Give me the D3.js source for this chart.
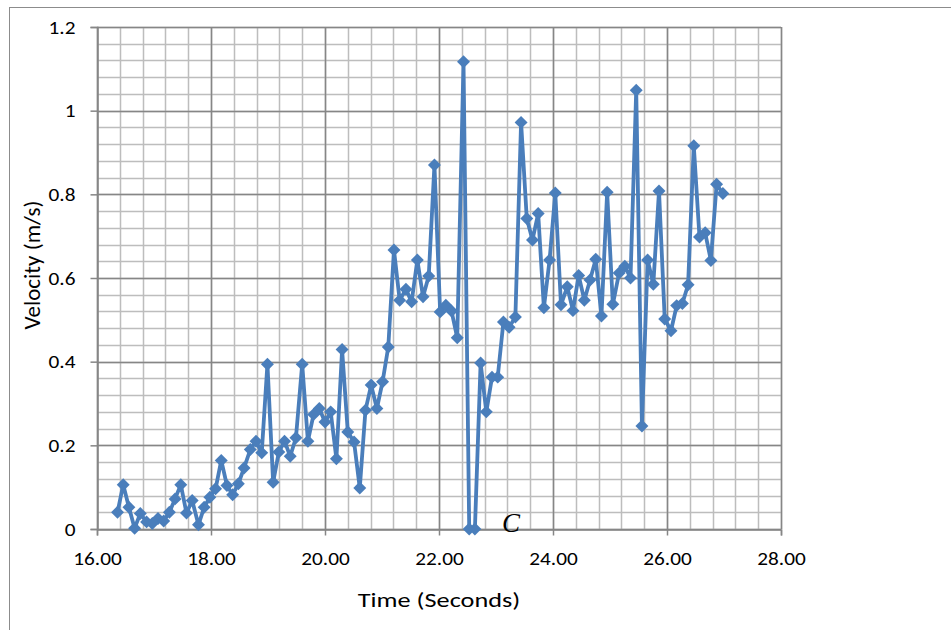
<!DOCTYPE html>
<html>
<head>
<meta charset="utf-8">
<script src="https://cdn.jsdelivr.net/npm/d3@7"></script>
<style>
  body { margin: 0; background: #fff; }
</style>
</head>
<body>
<svg id="chart"></svg>
<script>
// time in seconds, one reading every ~0.1 s
const times = [
  16.36, 16.46, 16.56, 16.66, 16.76, 16.87, 16.97, 17.07, 17.17, 17.27,
  17.37, 17.47, 17.57, 17.67, 17.78, 17.88, 17.98, 18.08, 18.18, 18.28,
  18.38, 18.48, 18.58, 18.69, 18.79, 18.89, 18.99, 19.09, 19.19, 19.29,
  19.39, 19.49, 19.60, 19.70, 19.80, 19.90, 20.00, 20.10, 20.20, 20.30,
  20.40, 20.51, 20.61, 20.71, 20.81, 20.91, 21.01, 21.11, 21.21, 21.31,
  21.42, 21.52, 21.62, 21.72, 21.82, 21.92, 22.02, 22.12, 22.22, 22.32,
  22.43, 22.53, 22.63, 22.73, 22.83, 22.93, 23.03, 23.13, 23.23, 23.34,
  23.44, 23.54, 23.64, 23.74, 23.84, 23.94, 24.04, 24.14, 24.25, 24.35,
  24.45, 24.55, 24.65, 24.75, 24.85, 24.95, 25.05, 25.16, 25.26, 25.36,
  25.46, 25.56, 25.66, 25.76, 25.86, 25.96, 26.07, 26.17, 26.27, 26.37,
  26.47, 26.57, 26.67, 26.77, 26.87, 26.98
];

// velocity in m/s
const velocity = [
  0.040, 0.106, 0.052, 0.002, 0.037, 0.017, 0.013, 0.025, 0.019, 0.040,
  0.072, 0.106, 0.038, 0.068, 0.010, 0.052, 0.076, 0.096, 0.164, 0.104,
  0.082, 0.108, 0.146, 0.190, 0.210, 0.182, 0.394, 0.112, 0.184, 0.210,
  0.174, 0.218, 0.394, 0.210, 0.274, 0.288, 0.256, 0.280, 0.168, 0.429,
  0.232, 0.208, 0.098, 0.284, 0.344, 0.288, 0.352, 0.435, 0.667, 0.547,
  0.573, 0.543, 0.643, 0.555, 0.605, 0.870, 0.519, 0.535, 0.521, 0.457,
  1.117, 0.000, 0.000, 0.397, 0.280, 0.363, 0.363, 0.495, 0.482, 0.507,
  0.972, 0.742, 0.691, 0.754, 0.529, 0.643, 0.803, 0.536, 0.579, 0.522,
  0.606, 0.547, 0.595, 0.645, 0.509, 0.805, 0.537, 0.612, 0.628, 0.600,
  1.049, 0.246, 0.643, 0.585, 0.808, 0.502, 0.474, 0.534, 0.539, 0.584,
  0.916, 0.698, 0.708, 0.642, 0.824, 0.802
];

const xTicks = [16, 18, 20, 22, 24, 26, 28];
const yTicks = [0, 0.2, 0.4, 0.6, 0.8, 1, 1.2];

const width = 951, height = 630;
const margin = {left: 97, right: 170, top: 27, bottom: 101};
const font = "Carlito, Lato, sans-serif";

const svg = d3.select("#chart")
    .attr("width", width)
    .attr("height", height)
    .attr("font-family", font);

// widen text a little, the original labels are drawn horizontally stretched
function stretch(sel, k) {
  sel.each(function() {
    const w = this.getComputedTextLength();
    d3.select(this).attr("textLength", w * k).attr("lengthAdjust", "spacingAndGlyphs");
  });
}

// chart area frame (only top and left edges are in view)
svg.append("rect")
    .attr("x", 9.5).attr("y", 7.5)
    .attr("width", 960).attr("height", 660)
    .attr("fill", "none")
    .attr("stroke", "#8c8c8c");

const x = d3.scaleLinear().domain([16, 28]).range([margin.left, width - margin.right]);
const y = d3.scaleLinear().domain([0, 1.2]).range([height - margin.bottom, margin.top]);

const grid = svg.append("g");

// minor gridlines every 0.4 s and 0.04 m/s
grid.selectAll(".vminor").data(d3.range(16, 28.001, 0.4))
  .join("line")
    .attr("x1", d => Math.round(x(d)) + 0.5).attr("x2", d => Math.round(x(d)) + 0.5)
    .attr("y1", y(0)).attr("y2", y(1.2))
    .attr("stroke", "#bdbdbd").attr("stroke-width", 1.5);

grid.selectAll(".hminor").data(d3.range(0, 1.2001, 0.04))
  .join("line")
    .attr("y1", d => Math.round(y(d)) + 0.5).attr("y2", d => Math.round(y(d)) + 0.5)
    .attr("x1", x(16)).attr("x2", x(28))
    .attr("stroke", "#bdbdbd").attr("stroke-width", 1.5);

// major gridlines
grid.selectAll(".vmajor").data(xTicks)
  .join("line")
    .attr("x1", d => Math.round(x(d)) + 0.5).attr("x2", d => Math.round(x(d)) + 0.5)
    .attr("y1", y(0)).attr("y2", y(1.2))
    .attr("stroke", "#868686").attr("stroke-width", 1.5);

grid.selectAll(".hmajor").data(yTicks)
  .join("line")
    .attr("y1", d => Math.round(y(d)) + 0.5).attr("y2", d => Math.round(y(d)) + 0.5)
    .attr("x1", x(16)).attr("x2", x(28))
    .attr("stroke", "#868686").attr("stroke-width", 1.5);

// axes
const xAxis = d3.axisBottom(x).tickValues(xTicks).tickFormat(d3.format(".2f")).tickSize(6).tickPadding(16);
const yAxis = d3.axisLeft(y).tickValues(yTicks).tickFormat(d => d3.format("")(d)).tickSize(7).tickPadding(15);

const gx = svg.append("g")
    .attr("transform", `translate(0,${Math.round(y(0)) + 0.5})`)
    .call(xAxis);
const gy = svg.append("g")
    .attr("transform", `translate(${Math.round(x(16)) + 0.5},0)`)
    .call(yAxis);

[gx, gy].forEach(g => {
  g.attr("font-family", font).attr("font-size", 19);
  g.select(".domain").attr("stroke", "#868686").attr("stroke-width", 1.5);
  g.selectAll(".tick line").attr("stroke", "#868686").attr("stroke-width", 1.5);
  g.selectAll("text").attr("fill", "#000");
});
stretch(gx.selectAll(".tick text"), 1.12);
stretch(gy.selectAll(".tick text"), 1.12);

// series
const pts = times.map((t, i) => ({t: t, v: velocity[i]}));

svg.append("path")
    .datum(pts)
    .attr("fill", "none")
    .attr("stroke", "#4a7ebb")
    .attr("stroke-width", 3.8)
    .attr("stroke-linejoin", "round")
    .attr("d", d3.line().x(d => x(d.t)).y(d => y(d.v)));

const diamond = d3.symbol().type(d3.symbolSquare).size(84);
svg.append("g").selectAll("path")
  .data(pts)
  .join("path")
    .attr("d", diamond)
    .attr("transform", d => `translate(${x(d.t)},${y(d.v)}) rotate(45)`)
    .attr("fill", "#4a7ebb");

// annotation
svg.append("text")
    .attr("x", 502).attr("y", 532)
    .style("font-family", "'Liberation Serif', 'DejaVu Serif', serif")
    .style("font-style", "italic")
    .attr("font-size", 27)
    .attr("fill", "#000")
    .text("C");

// axis titles
svg.append("text")
    .attr("x", (x(16) + x(28)) / 2).attr("y", 607)
    .attr("text-anchor", "middle")
    .attr("font-size", 21)
    .attr("fill", "#000")
    .text("Time (Seconds)")
    .call(stretch, 1.25);

svg.append("text")
    .attr("transform", `translate(40,265) rotate(-90)`)
    .attr("text-anchor", "middle")
    .attr("font-size", 23)
    .attr("fill", "#000")
    .text("Velocity (m/s)");
</script>
</body>
</html>
